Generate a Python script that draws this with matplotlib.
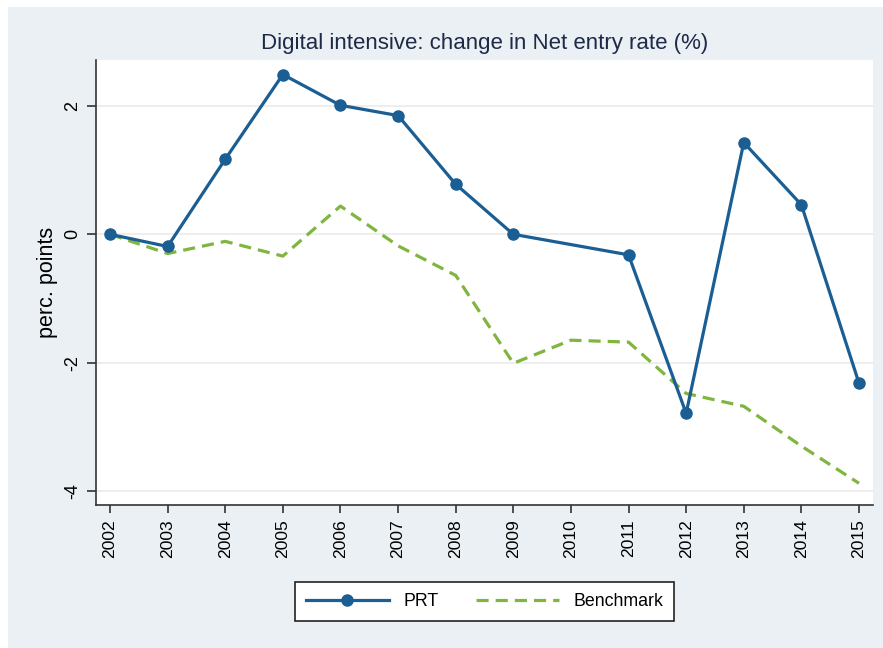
import numpy as np
import matplotlib
matplotlib.use('Agg')
import matplotlib.pyplot as plt
import matplotlib.patches as mpatches

years = [2002, 2003, 2004, 2005, 2006, 2007, 2008, 2009, 2010, 2011, 2012, 2013, 2014, 2015]
# PRT has no value for 2010, the line joins 2009 to 2011
prt = [0.0, -0.19, 1.17, 2.49, 2.01, 1.85, 0.78, 0.0, None, -0.32, -2.79, 1.43, 0.46, -2.32]
bench = [0.0, -0.30, -0.11, -0.34, 0.44, -0.18, -0.64, -2.01, -1.65, -1.68, -2.48, -2.68, -3.30, -3.88]
yticks = [-4, -2, 0, 2]

plt.rcParams['font.family'] = ['Liberation Sans', 'DejaVu Sans']

W, H = 883, 648
fig = plt.figure(figsize=(W/100, H/100), dpi=100)
fig.patch.set_facecolor('white')
# Stata-like grey graph region, drawn under the axes
bg = mpatches.Rectangle((8/W, 0), 1 - 8/W, 1 - 7/H, transform=fig.transFigure,
                        facecolor='#eaf0f3', edgecolor='none', zorder=-10)
fig.patches.append(bg)

ax = fig.add_axes([96/W, 1 - 505/H, (873 - 96)/W, (505 - 60)/H])
ax.set_facecolor('white')

blue = '#1a5e94'
green = '#80b53f'

px = [y for y, v in zip(years, prt) if v is not None]
pv = [v for v in prt if v is not None]
ax.plot(px, pv, color=blue, lw=2.3, marker='o', ms=8, label='PRT', zorder=3)
ax.plot(years, bench, color=green, lw=2.3, ls=(0, (3.8, 2.2)), label='Benchmark', zorder=2)

ax.set_xlim(2001.757, 2015.243)
ax.set_ylim(-4.218, 2.716)
ax.set_xticks(years)
ax.set_yticks(yticks)
ax.set_yticklabels([str(t) for t in yticks])
for t in ax.get_yticklabels():
    t.set_rotation(90)
    t.set_va('center')
ax.tick_params(axis='x', labelrotation=90, length=6, width=1.2, color='#333333', labelsize=12.6, pad=4)
ax.tick_params(axis='y', length=6.5, width=1.2, color='#333333', labelsize=13, pad=4)
ax.grid(axis='y', color='#ebebeb', lw=1.2)
ax.set_axisbelow(True)

for s in ['top', 'right']:
    ax.spines[s].set_visible(False)
for s in ['left', 'bottom']:
    ax.spines[s].set_color('#333333')
    ax.spines[s].set_linewidth(1.2)

ax.set_ylabel('perc. points', fontsize=15.5, va='center')
ax.yaxis.set_label_coords((48 - 96)/777, 0.5)

fig.text(485/W, 1 - 44/H, 'Digital intensive: change in Net entry rate (%)',
         ha='center', va='center', fontsize=16, color='#1e2a48')

leg = fig.legend(loc='center', bbox_to_anchor=(484.5/W, 1 - 601.5/H), ncol=2, fontsize=12.8,
                 frameon=True, fancybox=False, framealpha=1, handlelength=4.7, columnspacing=2.1,
                 handletextpad=0.8, borderpad=0.6, borderaxespad=0)
leg.get_frame().set_edgecolor('#222222')
leg.get_frame().set_facecolor('white')
leg.get_frame().set_linewidth(1.2)

fig.savefig('out.png', dpi=100)
